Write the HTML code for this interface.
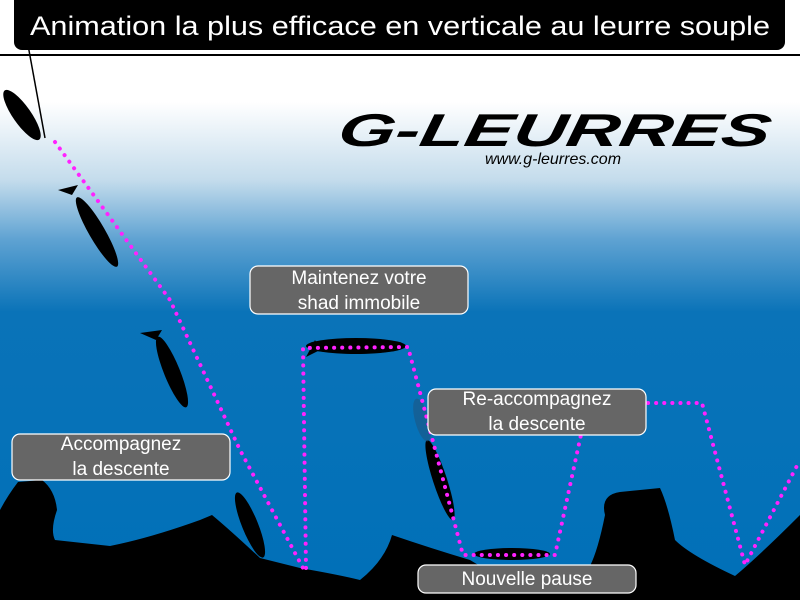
<!DOCTYPE html>
<html><head><meta charset="utf-8"><style>
body{margin:0;width:800px;height:600px;overflow:hidden;font-family:"Liberation Sans",sans-serif}
</style></head><body>
<svg width="800" height="600" viewBox="0 0 800 600" xmlns="http://www.w3.org/2000/svg">
<defs>
<linearGradient id="bg" x1="0" y1="0" x2="0" y2="1">
<stop offset="0" stop-color="#ffffff"/>
<stop offset="0.17" stop-color="#ffffff"/>
<stop offset="0.3" stop-color="#c4dcec"/>
<stop offset="0.4" stop-color="#5ea2d2"/>
<stop offset="0.52" stop-color="#0a73b8"/>
<stop offset="1" stop-color="#0070b8"/>
</linearGradient>
</defs>
<rect width="800" height="600" fill="url(#bg)"/>
<line x1="0" y1="55" x2="800" y2="55" stroke="#000" stroke-width="2"/>
<line x1="28" y1="45" x2="45" y2="138" stroke="#000" stroke-width="1.5"/>
<rect x="14" y="-10" width="771" height="60" rx="8" fill="#000"/>
<text x="400" y="35" font-size="27" fill="#fff" text-anchor="middle" textLength="740" lengthAdjust="spacingAndGlyphs">Animation la plus efficace en verticale au leurre souple</text>
<text x="552" y="146" font-size="46" font-weight="bold" font-style="italic" fill="#000" text-anchor="middle" textLength="432" lengthAdjust="spacingAndGlyphs" transform="skewX(-10) translate(26,0)">G-LEURRES</text>
<text x="553" y="164" font-size="16" font-style="italic" fill="#000" text-anchor="middle">www.g-leurres.com</text>
<path d="M0,600 L0,510 Q8,495 18,482 L42,480 Q55,490 57,510 Q50,530 55,540 L110,546 Q150,538 200,520 L212,515 Q230,530 260,558 L300,568 Q340,575 360,580 Q385,560 392,535 Q430,548 470,560 L480,566 L590,566 Q598,550 605,515 Q600,495 620,492 L660,488 Q668,505 675,540 Q690,555 735,576 Q760,555 800,515 L800,600 Z" fill="#000"/>
<g fill="#000">
<ellipse cx="22" cy="115" rx="9" ry="30" transform="rotate(-35 22 115)"/>
<ellipse cx="97" cy="232" rx="8" ry="40" transform="rotate(-30 97 232)"/>
<path d="M58,190 L78,185 L72,195Z"/>
<ellipse cx="172" cy="372" rx="8" ry="38" transform="rotate(-22 172 372)"/>
<path d="M140,333 L162,330 L156,340Z"/>
<ellipse cx="356" cy="346" rx="50" ry="8"/>
<path d="M306,357 L315,340 L320,350Z"/>
<ellipse cx="440" cy="480" rx="7" ry="42" transform="rotate(-18 440 480)"/>
<ellipse cx="512" cy="554" rx="38" ry="6"/>
<ellipse cx="250" cy="525" rx="8" ry="35" transform="rotate(-22 250 525)"/>
</g>
<ellipse cx="422" cy="420" rx="7" ry="22" transform="rotate(-15 422 420)" fill="#1a5a8a" opacity="0.7"/>
<g fill="none" stroke="#ff22ff" stroke-width="4" stroke-dasharray="0.1 8" stroke-linecap="round">
<polyline points="55,142 170,300 240,450 303,568"/>
<polyline points="306,568 303,348 408,347 463,555 555,555 582,430"/>
<polyline points="648,403 702,403 745,565 800,460"/>
</g>
<g stroke="#fff" stroke-width="1.2" fill="#666">
<rect x="250" y="266" width="218" height="48" rx="8"/>
<rect x="12" y="434" width="218" height="46" rx="8"/>
<rect x="428" y="389" width="218" height="46" rx="8"/>
<rect x="418" y="565" width="218" height="28" rx="8"/>
</g>
<g fill="#fff" font-size="19" text-anchor="middle">
<text x="359" y="284">Maintenez votre</text>
<text x="359" y="309">shad immobile</text>
<text x="121" y="450">Accompagnez</text>
<text x="121" y="475">la descente</text>
<text x="537" y="405">Re-accompagnez</text>
<text x="537" y="430">la descente</text>
<text x="527" y="585">Nouvelle pause</text>
</g>
</svg>
</body></html>
